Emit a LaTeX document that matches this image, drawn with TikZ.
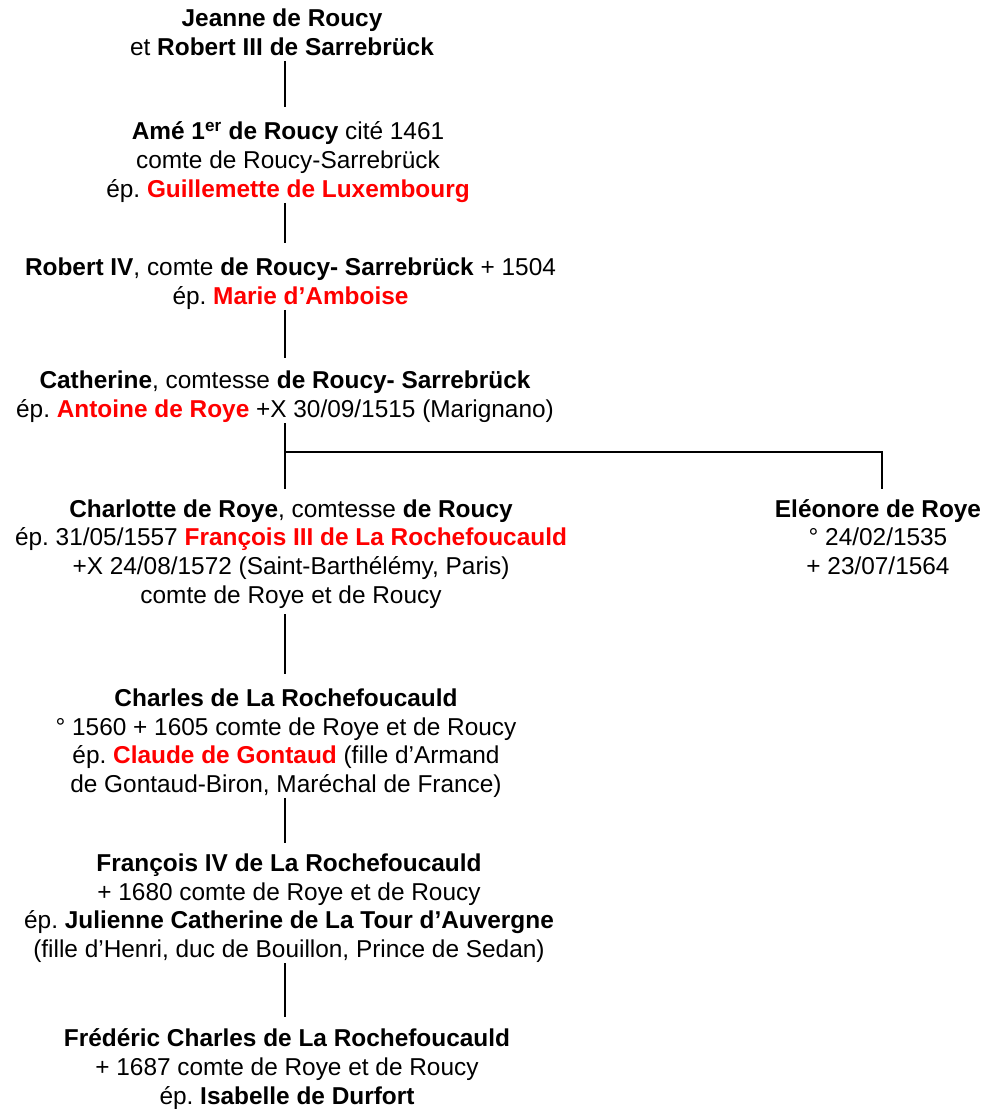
\documentclass[tikz,border=0pt]{standalone}
\usepackage{fontspec}
\setmainfont{Liberation Sans}
\frenchspacing
\newcommand\ls{\rule[-4.2pt]{0pt}{21.5pt}}
\newcommand\redname[1]{\textcolor{red}{\textbf{#1}}}
\begin{document}
\begin{tikzpicture}[x=0.75pt,y=-0.75pt,
  person/.style={align=center,inner sep=0pt,font=\fontsize{18.3pt}{21.5pt}\selectfont},
  link/.style={line width=1.7pt},
]
\path[use as bounding box] (0,0) rectangle (987,1109);
\coordinate (spine) at (285,0);

\node[person] (j) at (282,32) {\ls\textbf{Jeanne de Roucy}\\\ls et \textbf{Robert III de Sarrebrück}};
\node[person] (a) at (288,159.7) {\ls\textbf{Amé 1\textsuperscript{er} de Roucy} cité 1461\\\ls comte de Roucy-Sarrebrück\\\ls ép. \redname{Guillemette de Luxembourg}};
\node[person] (r) at (290.5,281) {\ls\textbf{Robert IV}, comte \textbf{de Roucy- Sarrebrück} + 1504\\\ls ép. \redname{Marie d’Amboise}};
\node[person] (c) at (285,394.5) {\ls\textbf{Catherine}, comtesse \textbf{de Roucy- Sarrebrück}\\\ls ép. \redname{Antoine de Roye} +X 30/09/1515 (Marignano)};
\node[person] (ch) at (291,551.5) {\ls\textbf{Charlotte de Roye}, comtesse \textbf{de Roucy}\\\ls ép. 31/05/1557 \redname{François III de La Rochefoucauld}\\\ls +X 24/08/1572 (Saint-Barthélémy, Paris)\\\ls comte de Roye et de Roucy};
\node[person] (e) at (878,537) {\ls\textbf{Eléonore de Roye}\\\ls ° 24/02/1535\\\ls + 23/07/1564};
\node[person] (cl) at (286,740.7) {\ls\textbf{Charles de La Rochefoucauld}\\\ls ° 1560 + 1605 comte de Roye et de Roucy\\\ls ép. \redname{Claude de Gontaud} (fille d’Armand\\\ls de Gontaud-Biron, Maréchal de France)};
\node[person] (f) at (289,905.7) {\ls\textbf{François IV de La Rochefoucauld}\\\ls + 1680 comte de Roye et de Roucy\\\ls ép. \textbf{Julienne Catherine de La Tour d’Auvergne}\\\ls (fille d’Henri, duc de Bouillon, Prince de Sedan)};
\node[person] (fr) at (287,1066.7) {\ls\textbf{Frédéric Charles de La Rochefoucauld}\\\ls + 1687 comte de Roye et de Roucy\\\ls ép. \textbf{Isabelle de Durfort}};

\coordinate (fork) at (285,452);
\coordinate (forkR) at (882,452);

\draw[link,shorten >=7pt] (j.south -| spine) -- (a.north -| spine);
\draw[link,shorten >=6.5pt] (a.south -| spine) -- (r.north -| spine);
\draw[link,shorten >=6pt] (r.south -| spine) -- (c.north -| spine);
\draw[link,shorten >=3.5pt] (c.south -| spine) -- (ch.north -| spine);
\draw[link,shorten >=3.5pt] (fork) -- (forkR) -- (e.north -| forkR);
\draw[link,shorten <=4pt,shorten >=6.5pt] (ch.south -| spine) -- (cl.north -| spine);
\draw[link,shorten >=4pt] (cl.south -| spine) -- (f.north -| spine);
\draw[link,shorten >=5pt] (f.south -| spine) -- (fr.north -| spine);
\end{tikzpicture}
\end{document}
